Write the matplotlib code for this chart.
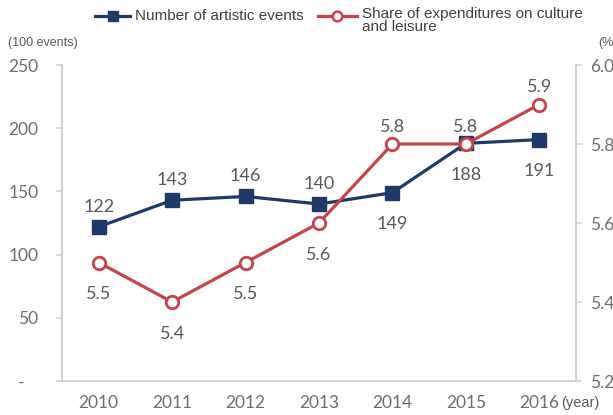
import numpy as np
import matplotlib.pyplot as plt
from matplotlib.lines import Line2D

years = ['2010', '2011', '2012', '2013', '2014', '2015', '2016']
events = [122, 143, 146, 140, 149, 188, 191]
share = [5.5, 5.4, 5.5, 5.6, 5.8, 5.8, 5.9]

# which side of the point each value label sits on
events_pos = ['above', 'above', 'above', 'above', 'below', 'below', 'below']
share_pos = ['below', 'below', 'below', 'below', 'above', 'above', 'above']

navy = '#1F3A68'
red = '#C4444A'
grey_txt = '#595959'
grey_tick = '#6E6E6E'
grey_line = '#D0D0D0'
num_font = ['Lato', 'DejaVu Sans']
leg_font = ['Liberation Sans Narrow', 'Liberation Sans', 'DejaVu Sans']

W, H = 613, 415
fig = plt.figure(figsize=(W/100, H/100), dpi=100)
ax = fig.add_axes([62/W, 1-381/H, (576-62)/W, (381-65)/H])
ax2 = ax.twinx()

x = np.arange(len(years))

ax.plot(x, events, color=navy, lw=2.3, marker='s', ms=9.5,
        mfc=navy, mec=navy, zorder=3)
ax2.plot(x, share, color=red, lw=2.3, marker='o', ms=9,
         mfc='white', mec=red, mew=2, zorder=4)

ax.set_xlim(-0.5, len(years)-0.5)
ax.set_ylim(0, 250)
ax2.set_ylim(5.2, 6.0)

ax.set_yticks(np.arange(0, 251, 50))
ax.set_yticklabels(['-   '] + [str(v) for v in range(50, 251, 50)])
ax2.set_yticks(np.arange(5.2, 6.01, 0.2))
ax2.set_yticklabels(['%.1f' % v for v in np.arange(5.2, 6.01, 0.2)])
ax.set_xticks(x)
ax.set_xticklabels(years)

for a in (ax, ax2):
    a.spines['top'].set_visible(False)
    for s in ('left', 'right', 'bottom'):
        a.spines[s].set_color(grey_line)
        a.spines[s].set_linewidth(1.2)
    a.tick_params(colors=grey_line, labelcolor=grey_tick, labelsize=12.5,
                  length=4, width=1.1)
    for lab in a.get_yticklabels() + a.get_xticklabels():
        lab.set_family(num_font)
ax.tick_params(axis='y', pad=13)
ax2.tick_params(axis='y', pad=6)
ax.tick_params(axis='x', length=0, pad=10)

# value labels: baseline offset above the point, top offset below it
for i, v in enumerate(events):
    if events_pos[i] == 'above':
        dy, va = 11, 'baseline'
    else:
        dy, va = -17, 'top'
    ax.annotate(str(v), (x[i], v), xytext=(0, dy), textcoords='offset points',
                ha='center', va=va, fontsize=13, color=grey_txt, family=num_font)
for i, v in enumerate(share):
    if share_pos[i] == 'above':
        dy, va = 9, 'baseline'
    else:
        dy, va = -17, 'top'
    ax2.annotate('%.1f' % v, (x[i], v), xytext=(0, dy), textcoords='offset points',
                 ha='center', va=va, fontsize=13, color=grey_txt, family=num_font)

# unit labels
fig.text(8/W, 1-43/H, '(100 events)', fontsize=9, color=grey_txt,
         family=leg_font, va='center')
fig.text(598/W, 1-43/H, '(%)', fontsize=9, color=grey_txt,
         family=leg_font, va='center')
fig.text(561/W, 1-403/H, '(year)', fontsize=10.5, color=grey_txt,
         family=leg_font, va='center')

# legend, laid out by hand across the top
leg_y = 1 - 16/H
fig.add_artist(Line2D([95/W, 130/W], [leg_y, leg_y], color=navy, lw=2.3))
fig.add_artist(Line2D([113/W], [leg_y], marker='s', ms=6.5, color=navy))
fig.text(135/W, leg_y, 'Number of artistic events', fontsize=11,
         color='#404040', family=leg_font, va='center')
fig.add_artist(Line2D([318/W, 357/W], [leg_y, leg_y], color=red, lw=2.3))
fig.add_artist(Line2D([337/W], [leg_y], marker='o', ms=7, mfc='white',
                      mec=red, mew=1.8))
fig.text(362/W, 1-14/H, 'Share of expenditures on culture', fontsize=11,
         color='#404040', family=leg_font, va='center')
fig.text(362/W, 1-27/H, 'and leisure', fontsize=11,
         color='#404040', family=leg_font, va='center')

fig.savefig('out.png', dpi=100)
